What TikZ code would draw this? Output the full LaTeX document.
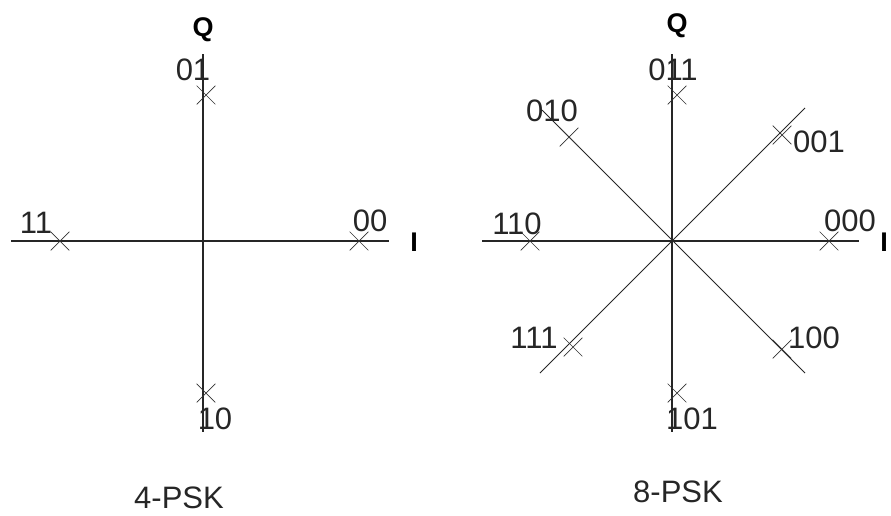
\documentclass[tikz,border=0pt]{standalone}
\usepackage{fontspec}
\setmainfont{Liberation Sans}
\usetikzlibrary{shapes.misc}
\begin{document}
\begin{tikzpicture}[x=1pt,y=-1pt,
  axis/.style={draw=black!85,line width=1.4pt},
  diag/.style={draw=black!85,line width=0.9pt},
  pt/.style={cross out,draw=black!80,line width=0.7pt,minimum size=18pt,inner sep=0pt},
  lbl/.style={text=black!85,font=\fontsize{31}{36}\selectfont,inner sep=0pt},
  ttl/.style={text=black!85,font=\fontsize{31}{36}\selectfont,inner sep=0pt},
  axl/.style={text=black,font=\fontsize{27}{32}\selectfont\bfseries,inner sep=0pt}]
\useasboundingbox (0,0) rectangle (891,515);
% ---------- 4-PSK ----------
\coordinate (aL) at (11,241);
\coordinate (aR) at (389,241);
\coordinate (aT) at (203,54);
\coordinate (aB) at (203,432);
\draw[axis] (aL) -- (aR);
\draw[axis] (aT) -- (aB);
\node[pt] (p01) at (206,95) {};
\node[pt] (p11) at (60,241) {};
\node[pt] (p00) at (359,241) {};
\node[pt] (p10) at (206,393) {};
\node[lbl] (l01) at (193,70) {01};
\node[lbl] (l11) at (36,223) {11};
\node[lbl] (l00) at (370,221) {00};
\node[lbl] (l10) at (215,419) {10};
\node[axl] (qL) at (203,30) {Q};
\node[axl] (iL) at (414,242) {I};
\node[ttl] (t4) at (179,498) {4-PSK};
% ---------- 8-PSK ----------
\coordinate (bL) at (482,241);
\coordinate (bR) at (859,241);
\coordinate (bT) at (672,54);
\coordinate (bB) at (672,432);
\coordinate (dUL) at (542,110);
\coordinate (dLR) at (805,373);
\coordinate (dUR) at (805,108);
\coordinate (dLL) at (540,373);
\draw[axis] (bL) -- (bR);
\draw[axis] (bT) -- (bB);
\draw[diag] (dUL) -- (dLR);
\draw[diag] (dUR) -- (dLL);
\node[pt] (q000) at (829,241) {};
\node[pt] (q110) at (530,241) {};
\node[pt] (q011) at (677,95) {};
\node[pt] (q101) at (677,393) {};
\node[pt] (q010) at (569,137) {};
\node[pt] (q001) at (782,135) {};
\node[pt] (q111) at (573,347) {};
\node[pt] (q100) at (782,349) {};
\node[lbl] (m011) at (673,70) {011};
\node[lbl] (m010) at (552,111) {010};
\node[lbl] (m001) at (819,142) {001};
\node[lbl] (m110) at (517,224) {110};
\node[lbl] (m000) at (850,221) {000};
\node[lbl] (m111) at (534,338) {111};
\node[lbl] (m100) at (814,338) {100};
\node[lbl] (m101) at (692,419) {101};
\node[axl] (qR) at (677,26) {Q};
\node[axl] (iR) at (884,242) {I};
\node[ttl] (t8) at (678,492) {8-PSK};
\end{tikzpicture}
\end{document}
